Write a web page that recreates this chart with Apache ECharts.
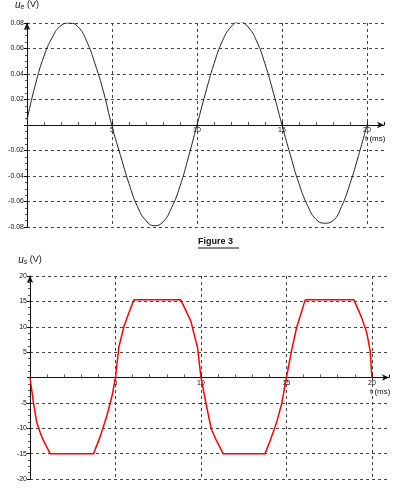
<!DOCTYPE html>
<html>
<head>
<meta charset="utf-8">
<script src="https://cdn.jsdelivr.net/npm/echarts@6/dist/echarts.min.js"></script>
<style>
    html, body {margin: 0; padding: 0; background: #fff;}
    #chart {width: 397px; height: 491px;}
</style>
</head>
<body>
<div id="chart"></div>
<script>
const t_in = [0, 0.5, 1, 1.5, 2, 2.5, 3, 3.5, 4, 4.5, 5, 5.5, 6, 6.5, 7, 7.5, 8, 8.5, 9, 9.5, 10,
    10.5, 11, 11.5, 12, 12.5, 13, 13.5, 14, 14.5, 15, 15.5, 16, 16.5, 17, 17.5, 18, 18.5, 19, 19.5, 20];
const ue_values = [0.004, 0.032, 0.054, 0.069, 0.078, 0.080, 0.077, 0.066, 0.048, 0.026, -0.001,
    -0.024, -0.046, -0.064, -0.075, -0.079, -0.076, -0.065, -0.048, -0.025, 0,
    0.025, 0.048, 0.066, 0.077, 0.081, 0.077, 0.066, 0.048, 0.025, 0,
    -0.024, -0.046, -0.063, -0.074, -0.077, -0.075, -0.064, -0.046, -0.024, 0];

// u_s(t) : sommets de la courbe rouge (écrêtée)
const t_out = [0, 0.2, 0.39, 0.59, 0.78, 1.18, 3.72, 4.12, 4.5, 4.8, 5.0, 5.2, 5.49, 5.78, 6.08, 8.82,
    9.4, 9.8, 10.0, 10.3, 10.6, 10.9, 11.3, 13.75, 14.05, 14.43, 14.72, 15.0, 15.3, 15.6, 16.1, 18.95,
    19.4, 19.7, 19.9, 20.0];
const us_values = [0, -4.9, -8.8, -10.8, -12.4, -15, -15, -11.5, -7.5, -3.6, 0, 6, 10, 12.7, 15.3, 15.3,
    11.2, 5.9, 0, -5.2, -10.1, -12.4, -15, -15, -12.4, -8.8, -5.2, 0, 5.3, 9.9, 15.3, 15.3,
    11.8, 8.8, 5.2, 0];

const x_labels = ['5', '10', '15', '20'];
const ue_range = [-0.08, 0.08, 0.02];
const us_range = [-20, 20, 5];

const FONT = 'Liberation Sans';
const GRID_LINE = {show: true, showMinLine: false, showMaxLine: false,
    lineStyle: {color: '#444', width: 1, type: [3, 3]}};

// l'axe des temps est remonté au niveau de 0 V (milieu de la grille)
function build_x_axis(grid_index, half_height) {
    return {
        type: 'value', gridIndex: grid_index, min: 0, max: 21, interval: 5,
        position: 'bottom', offset: -half_height,
        name: 't (ms)', nameLocation: 'end', nameGap: -19, nameMoveOverlap: false,
        nameTextStyle: {fontFamily: FONT, fontSize: 8, color: '#111', align: 'left', verticalAlign: 'top', padding: [10, 0, 0, 0]},
        axisLine: {onZero: false, symbol: ['none', 'arrow'], symbolSize: [5, 7], lineStyle: {color: '#111', width: 1}},
        axisTick: {show: true, inside: true, length: 3, lineStyle: {color: '#111'}},
        minorTick: {show: true, splitNumber: 5, length: 3, lineStyle: {color: '#555'}},
        axisLabel: {
            fontFamily: FONT, fontSize: 7, color: '#111', margin: 2,
            formatter: function (v) {
                let s = String(v);
                return x_labels.indexOf(s) >= 0 ? s : '';
            }
        },
        splitLine: GRID_LINE,
    };
}

function build_y_axis(grid_index, range, sub, decimals, gap) {
    return {
        type: 'value', gridIndex: grid_index, min: range[0], max: range[1], interval: range[2],
        name: '{u|u}{s|' + sub + '} (V)', nameLocation: 'end', nameGap: gap,
        nameTextStyle: {
            fontFamily: FONT, fontSize: 9, color: '#111',
            rich: {
                u: {fontFamily: FONT, fontSize: 10, fontStyle: 'italic', color: '#111'},
                s: {fontFamily: FONT, fontSize: 7, fontStyle: 'italic', color: '#111', padding: [5, 0, 0, 0]}
            }
        },
        axisLine: {onZero: false, symbol: ['none', 'arrow'], symbolSize: [5, 7], lineStyle: {color: '#111', width: 1}},
        axisTick: {show: true, length: 3, lineStyle: {color: '#111'}},
        minorTick: {show: true, splitNumber: 4, length: 2, lineStyle: {color: '#555'}},
        axisLabel: {
            fontFamily: FONT, fontSize: 7, color: '#111', margin: 3,
            formatter: function (v) {
                return Math.abs(v) < 1e-9 ? '' : v.toFixed(decimals);
            }
        },
        splitLine: {show: true, lineStyle: {color: '#444', width: 1, type: [3, 3]}},
    };
}

let chart = echarts.init(document.getElementById('chart'), null, {renderer: 'canvas'});
chart.setOption({
    animation: false,
    backgroundColor: '#fff',
    textStyle: {fontFamily: FONT},
    title: {
        text: 'Figure 3', left: 198, top: 237, padding: 0,
        textStyle: {fontFamily: FONT, fontSize: 9, fontWeight: 'bold', color: '#111'}
    },
    graphic: [{
        type: 'line', shape: {x1: 198, y1: 248, x2: 239, y2: 248},
        style: {stroke: '#111', lineWidth: 1}
    }],
    grid: [
        {left: 27, top: 23, width: 357, height: 204, outerBoundsMode: 'none'},
        {left: 30, top: 276, width: 359, height: 203, outerBoundsMode: 'none'}
    ],
    xAxis: [build_x_axis(0, 102), build_x_axis(1, 101.5)],
    yAxis: [build_y_axis(0, ue_range, 'e', 2, 12), build_y_axis(1, us_range, 's', 0, 10)],
    series: [
        {
            type: 'line', xAxisIndex: 0, yAxisIndex: 0, smooth: true, showSymbol: false,
            data: t_in.map((t, i) => [t, ue_values[i]]),
            lineStyle: {color: '#222', width: 1}
        },
        {
            type: 'line', xAxisIndex: 1, yAxisIndex: 1, smooth: false, showSymbol: false,
            data: t_out.map((t, i) => [t, us_values[i]]),
            lineStyle: {color: '#ff0000', width: 1.5}
        }
    ]
});
</script>
</body>
</html>
